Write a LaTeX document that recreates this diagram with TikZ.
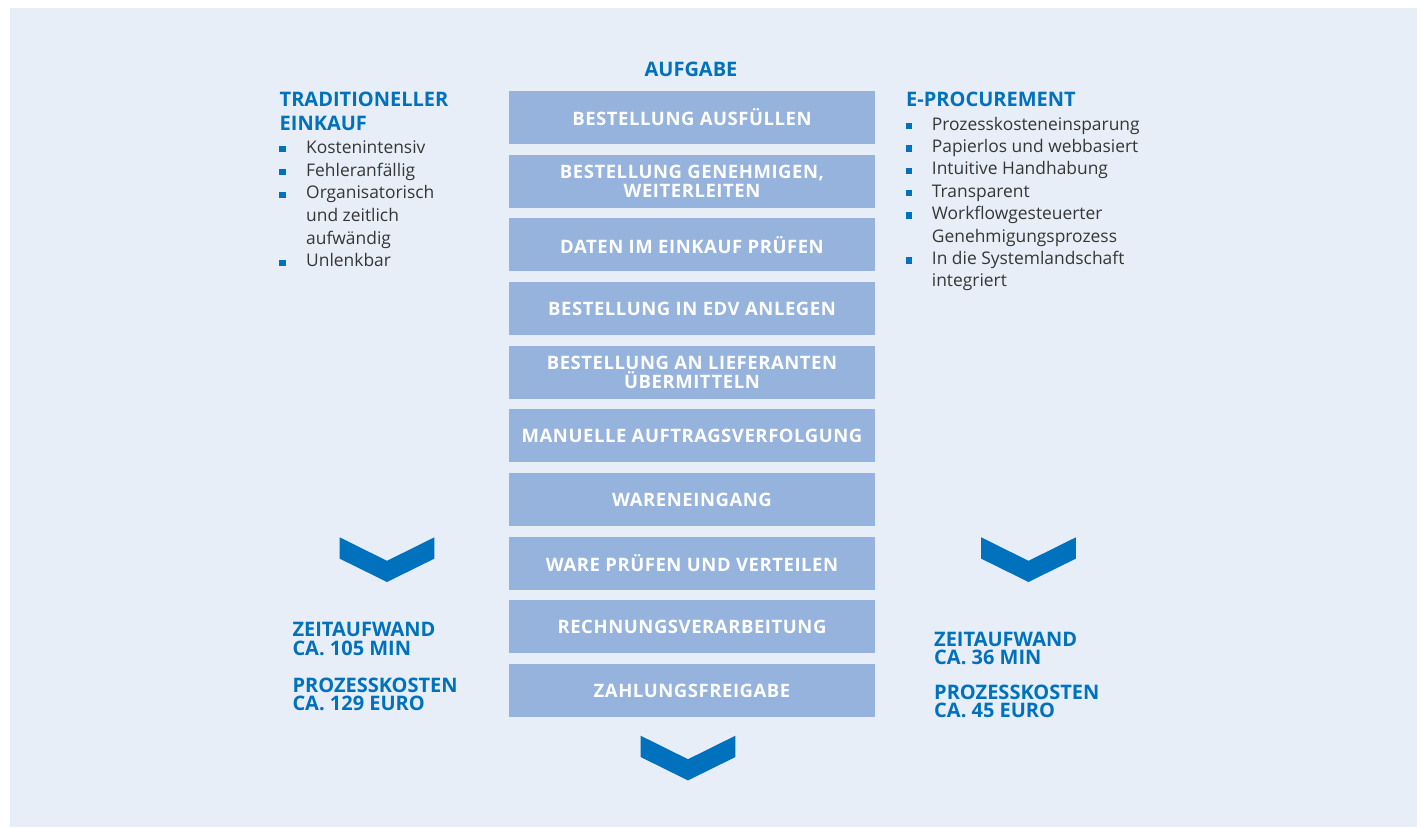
\documentclass[tikz,border=0pt]{standalone}
\usepackage{fontspec}
\setmainfont{Open Sans}
\newfontfamily\stepfont[LetterSpace=3.0]{Open Sans}
\usepackage{xcolor}
\usepackage{tikz}
\usetikzlibrary{positioning}
\definecolor{PanelBlue}{HTML}{E7EEF8}
\definecolor{StepBlue}{HTML}{95B3DD}
\definecolor{DeepBlue}{HTML}{0071BC}
\definecolor{BodyGray}{HTML}{363636}
\tikzset{
    stepbox/.style={rectangle, minimum width=366pt, minimum height=53pt, inner sep=0pt,
        fill=StepBlue, text=white, align=center, text depth=0pt,
        font=\stepfont\bfseries\fontsize{18.5}{18.5}\selectfont},
    headtext/.style={anchor=base west, inner sep=0pt, text=DeepBlue,
        font=\bfseries\fontsize{20}{24}\selectfont},
    sumtext/.style={anchor=base west, inner sep=0pt, text=DeepBlue,
        font=\bfseries\fontsize{20}{18.3}\selectfont},
    listtext/.style={anchor=base west, inner sep=0pt, text=BodyGray,
        font=\fontsize{17.4}{22.6}\selectfont},
    bulletsq/.style={rectangle, inner sep=0pt, minimum size=6.3pt, fill=DeepBlue},
}

\begin{document}
\begin{tikzpicture}[x=1pt, y=-1pt]
    \useasboundingbox (0,0) rectangle (1421,827);
    \fill[PanelBlue] (10,8) rectangle (1417,827);

    % mittlere Spalte
    \node[headtext, anchor=base] (task) at (691,76) {AUFGABE};
    \foreach \txt [count=\i] in {BESTELLUNG AUSFÜLLEN, {BESTELLUNG GENEHMIGEN,\\WEITERLEITEN},
        DATEN IM EINKAUF PRÜFEN, BESTELLUNG IN EDV ANLEGEN, {BESTELLUNG AN LIEFERANTEN\\ÜBERMITTELN},
        MANUELLE AUFTRAGSVERFOLGUNG, WARENEINGANG, WARE PRÜFEN UND VERTEILEN,
        RECHNUNGSVERARBEITUNG, ZAHLUNGSFREIGABE}
        \node[stepbox] (step\i) at (692,{117.5+63.67*(\i-1)}) {\txt};

    % linke Spalte
    \node[headtext] (tradA) at (279.5,106) {TRADITIONELLER};
    \node[headtext] (tradB) at (279.5,130) {EINKAUF};
    \foreach \yy/\txt/\b [count=\i] in {153.3/Kostenintensiv/1, 176/Fehleranfällig/1,
        198.7/Organisatorisch/1, 221.4/und zeitlich/0, 244.1/aufwändig/0, 266.8/Unlenkbar/1}{
        \node[listtext] (trad\i) at (306,\yy) {\txt};
        \ifnum\b=1 \node[bulletsq] (tradsq\i) at (282.5,\yy-4) {}; \fi
    }

    % rechte Spalte
    \node[headtext] (eproc) at (906,106) {E-PROCUREMENT};
    \foreach \yy/\txt/\b [count=\i] in {130/Prozesskosteneinsparung/1, 152.4/Papierlos und webbasiert/1,
        174.8/Intuitive Handhabung/1, 197.2/Transparent/1, 219.6/Workflowgesteuerter/1,
        242/Genehmigungsprozess/0, 264.4/In die Systemlandschaft/1, 286.8/integriert/0}{
        \node[listtext] (eproc\i) at (931.7,\yy) {\txt};
        \ifnum\b=1 \node[bulletsq] (eprocsq\i) at (909,\yy-4) {}; \fi
    }

    % Pfeile
    \foreach \cx/\ty in {387/537.3, 1028.5/537.3, 688/735.7}
        \fill[DeepBlue] (\cx-47.4,\ty) -- (\cx,\ty+23.5) -- (\cx+47.4,\ty) -- (\cx+47.4,\ty+21.3)
            -- (\cx,\ty+44.7) -- (\cx-47.4,\ty+21.3) -- cycle;

    % Ergebnisse
    \node[sumtext] (tradtime) at (292.3,636.7) {ZEITAUFWAND};
    \node[sumtext] (tradmin) at (292.3,655) {CA. 105 MIN};
    \node[sumtext] (tradcost) at (292.3,692.3) {PROZESSKOSTEN};
    \node[sumtext] (tradeuro) at (292.3,710.7) {CA. 129 EURO};
    \node[sumtext] (eproctime) at (934,646.7) {ZEITAUFWAND};
    \node[sumtext] (eprocmin) at (934,664.3) {CA. 36 MIN};
    \node[sumtext] (eproccost) at (934,699) {PROZESSKOSTEN};
    \node[sumtext] (eproceuro) at (934,717.3) {CA. 45 EURO};
\end{tikzpicture}
\end{document}
